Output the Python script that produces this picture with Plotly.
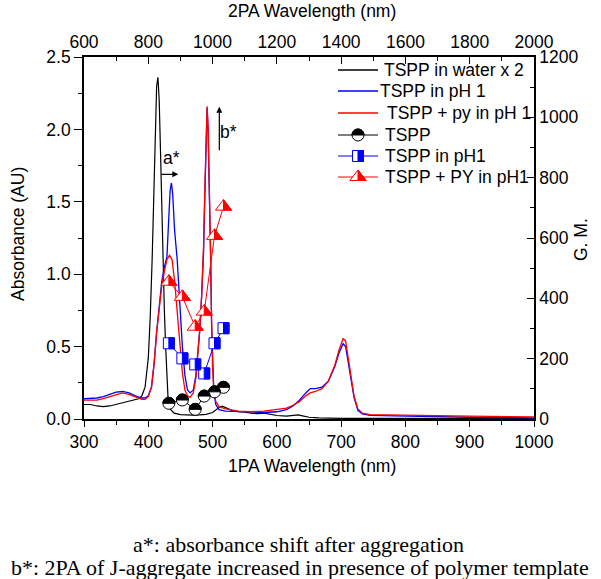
import plotly.graph_objects as go

# ---------------- data ----------------
# 1PA absorbance spectra (wavelength nm, absorbance AU)
wl_water = [300,310,320,330,340,350,360,370,380,385,390,395,400,403,406,409,411,413,415,417,
            419,421,423,425,427,429,431,434,440,450,460,470,480,490,500,505,510,515,520,530,
            540,550,560,570,580,590,600,615,625,633,640,650,665,680,700,750,800,900,1000]
abs_water = [0.10,0.10,0.09,0.085,0.09,0.10,0.11,0.12,0.13,0.14,0.16,0.22,0.42,0.7,1.1,1.65,2.05,2.3,2.36,2.2,
             1.85,1.4,1.03,0.75,0.5,0.25,0.12,0.07,0.04,0.03,0.027,0.027,0.028,0.032,0.045,0.06,0.08,0.088,0.08,0.06,
             0.05,0.048,0.04,0.037,0.04,0.03,0.024,0.02,0.022,0.028,0.022,0.012,0.008,0.006,0.005,0.004,0.003,0.002,0.002]

wl_ph1 = [300,310,320,330,340,350,360,370,380,390,395,400,405,409,413,417,421,425,429,432,
          434,436,438,441,445,449,453,457,461,465,470,474,477,480,483,486,488,490,491.5,493,
          495,497,498.5,500,502,505,510,520,540,560,580,600,615,625,635,645,652,660,670,680,
          690,697,703,707,711,715,720,726,733,745,800,900,1000]
abs_ph1 = [0.14,0.14,0.145,0.155,0.17,0.185,0.19,0.18,0.16,0.145,0.145,0.16,0.22,0.38,0.6,0.8,0.95,1.05,1.12,1.4,
           1.58,1.63,1.55,1.3,1.1,0.8,0.5,0.3,0.2,0.18,0.2,0.3,0.45,0.61,0.85,1.15,1.55,2.0,2.15,2.0,
           1.6,1.1,0.65,0.35,0.18,0.1,0.065,0.055,0.05,0.045,0.045,0.05,0.065,0.09,0.13,0.18,0.21,0.21,0.22,0.26,
           0.36,0.46,0.52,0.5,0.4,0.28,0.15,0.06,0.035,0.025,0.02,0.012,0.008]

wl_py = [300,310,320,330,340,350,360,370,380,390,395,400,405,409,413,417,421,425,429,433,
         437,441,445,449,453,457,461,465,470,474,477,480,483,486,488,490,491.5,493,495,497,
         498.5,500,502,505,510,520,540,560,580,600,615,625,635,645,652,660,670,680,690,697,
         703,707,711,715,720,726,733,745,800,900,1000]
abs_py = [0.13,0.13,0.13,0.14,0.155,0.17,0.18,0.17,0.15,0.135,0.135,0.155,0.22,0.38,0.6,0.78,0.92,1.02,1.1,1.13,
          1.1,0.95,0.72,0.5,0.32,0.2,0.16,0.15,0.18,0.28,0.43,0.61,0.85,1.2,1.6,2.05,2.16,2.02,1.65,1.15,
          0.66,0.35,0.2,0.12,0.085,0.07,0.055,0.05,0.055,0.065,0.075,0.095,0.12,0.16,0.18,0.19,0.21,0.26,0.37,0.48,
          0.555,0.54,0.42,0.29,0.16,0.07,0.04,0.03,0.025,0.02,0.015]

# 2PA cross sections (2PA wavelength nm, G.M.)
wl_2pa = [864, 906, 946, 974, 1006, 1034]
gm_tspp = [52, 63, 32, 76, 90, 105]
gm_ph1 = [251, 201, 181, 151, 251, 301]
gm_py = [455, 405, 306, 356, 607, 704]

names = ["TSPP in water x 2", "TSPP in pH 1", "TSPP + py in pH 1",
         "TSPP", "TSPP in pH1", "TSPP + PY in pH1"]

BLUE = "#0000ff"
RED = "#ff0000"
FONT = "Liberation Sans, Arial, sans-serif"

# ---------------- figure ----------------
fig = go.Figure()
fig.add_trace(go.Scatter(x=wl_water, y=abs_water, mode="lines", name=names[0],
                         line=dict(color="black", width=1.2)))
fig.add_trace(go.Scatter(x=wl_ph1, y=abs_ph1, mode="lines", name=names[1],
                         line=dict(color=BLUE, width=1.3)))
fig.add_trace(go.Scatter(x=wl_py, y=abs_py, mode="lines", name=names[2],
                         line=dict(color=RED, width=1.3)))

CIRC, SQ, TRI = 12, 11, 14
fig.add_trace(go.Scatter(x=wl_2pa, y=gm_tspp, xaxis="x2", yaxis="y2", mode="lines+markers",
                         name=names[3], line=dict(color="black", width=1),
                         marker=dict(symbol="circle", size=CIRC, color="white",
                                     line=dict(color="black", width=1))))
fig.add_trace(go.Scatter(x=wl_2pa, y=gm_ph1, xaxis="x2", yaxis="y2", mode="lines+markers",
                         name=names[4], line=dict(color=BLUE, width=1),
                         marker=dict(symbol="square", size=SQ, color="white",
                                     line=dict(color=BLUE, width=1))))
fig.add_trace(go.Scatter(x=wl_2pa, y=gm_py, xaxis="x2", yaxis="y2", mode="lines+markers",
                         name=names[5], line=dict(color=RED, width=1),
                         marker=dict(symbol="triangle-up", size=TRI, color="white",
                                     line=dict(color=RED, width=1))))


def half_circle(r):
    k = 0.5523 * r
    return f"M {-r},0 C {-r},{k} {-k},{r} 0,{r} C {k},{r} {r},{k} {r},0 Z"


def half_square(r):
    return f"M 0,{-r} L {r},{-r} L {r},{r} L 0,{r} Z"


def full_tri(r):
    rt = r * 2 / 3 ** 0.5
    return f"M {-rt},{-r/2} L {rt},{-r/2} L 0,{r} Z"


def half_tri(r):
    rt = r * 2 / 3 ** 0.5
    return f"M 0,{r} L {rt},{-r/2} L 0,{-r/2} Z"


shapes = []


def pix_shape(path, xa, ya, xref, yref, fill, lc=None, lw=0):
    return dict(type="path", path=path, xref=xref, yref=yref, xsizemode="pixel",
                ysizemode="pixel", xanchor=xa, yanchor=ya, fillcolor=fill,
                line=dict(color=lc if lc else fill, width=lw), layer="above")


# half fills on the 2PA markers
for x, y in zip(wl_2pa, gm_tspp):
    shapes.append(pix_shape(half_circle(CIRC / 2), x, y, "x2", "y2", "black", "black", 1))
for x, y in zip(wl_2pa, gm_ph1):
    shapes.append(pix_shape(half_square(SQ / 2), x, y, "x2", "y2", BLUE, BLUE, 1))
for x, y in zip(wl_2pa, gm_py):
    shapes.append(pix_shape(half_tri(TRI / 2), x, y, "x2", "y2", RED, RED, 1))

# ---------------- manual legend ----------------
L, B, W, H = 84, 419, 450, 362


def px(xp):
    return (xp - L) / W


def py(yp):
    return (B - yp) / H


def txt(text, x, y, size=17.5, xanchor="center", family=FONT, **kw):
    d = dict(text=text, xref="paper", yref="paper", x=px(x), y=py(y), xanchor=xanchor,
             yanchor="middle", showarrow=False, font=dict(family=family, size=size, color="black"))
    d.update(kw)
    return d


rows_y = [70, 91, 113, 135, 156, 177]
text_x = [382, 378, 385, 383, 383, 383]
colors = ["black", BLUE, RED, "black", BLUE, RED]
annotations = []
for i, (yy, tx, c) in enumerate(zip(rows_y, text_x, colors)):
    shapes.append(dict(type="line", xref="paper", yref="paper", x0=px(338), x1=px(378),
                       y0=py(yy), y1=py(yy), line=dict(color=c, width=1.3 if i < 3 else 1),
                       layer="above"))
    annotations.append(txt(names[i], tx, yy, xanchor="left"))
# legend symbols
mx = px(358)
r = CIRC / 2
shapes.append(dict(type="circle", xref="paper", yref="paper", xsizemode="pixel", ysizemode="pixel",
                   xanchor=mx, yanchor=py(rows_y[3]), x0=-r, x1=r, y0=-r, y1=r,
                   fillcolor="white", line=dict(color="black", width=1), layer="above"))
shapes.append(pix_shape(half_circle(r), mx, py(rows_y[3]), "paper", "paper", "black", "black", 1))
r = SQ / 2
shapes.append(dict(type="rect", xref="paper", yref="paper", xsizemode="pixel", ysizemode="pixel",
                   xanchor=mx, yanchor=py(rows_y[4]), x0=-r, x1=r, y0=-r, y1=r,
                   fillcolor="white", line=dict(color=BLUE, width=1), layer="above"))
shapes.append(pix_shape(half_square(r), mx, py(rows_y[4]), "paper", "paper", BLUE, BLUE, 1))
r = TRI / 2
shapes.append(pix_shape(full_tri(r), mx, py(rows_y[5]), "paper", "paper", "white", RED, 1))
shapes.append(pix_shape(half_tri(r), mx, py(rows_y[5]), "paper", "paper", RED, RED, 1))

# ---------------- arrows & labels ----------------
SERIF = "Liberation Serif, Times New Roman, serif"
annotations += [
    dict(x=446.7, y=1.69, ax=418.2, ay=1.69, xref="x", yref="y", axref="x", ayref="y",
         text="", showarrow=True, arrowhead=2, arrowsize=1, arrowwidth=1.2, arrowcolor="black"),
    dict(x=436.4, y=1.80, xref="x", yref="y", text="a*", showarrow=False,
         xanchor="center", yanchor="middle",
         font=dict(family=FONT, size=17.5, color="black")),
    dict(x=510.5, y=2.157, ax=510.5, ay=1.846, xref="x", yref="y", axref="x", ayref="y",
         text="", showarrow=True, arrowhead=2, arrowsize=1, arrowwidth=1.2, arrowcolor="black"),
    dict(x=524.5, y=1.98, xref="x", yref="y", text="b*", showarrow=False,
         xanchor="center", yanchor="middle",
         font=dict(family=FONT, size=17.5, color="black")),
    # axis titles
    txt("Absorbance (AU)", 18, 234, textangle=-90),
    txt("G. M.", 581, 240, textangle=-90),
    txt("1PA Wavelength (nm)", 312, 466),
    txt("2PA Wavelength (nm)", 312, 11),
    # caption
    txt("a*: absorbance shift after aggregation", 298, 544, size=22, family=SERIF),
    txt("b*: 2PA of J-aggregate increased in presence of polymer template", 300, 567,
        size=22, family=SERIF),
]

tickfont = dict(family=FONT, size=17.5, color="black")
axis_common = dict(showline=True, linecolor="black", linewidth=1.6, showgrid=False,
                   zeroline=False, tickcolor="black", tickwidth=1.2, tickfont=tickfont)

fig.update_layout(
    width=601, height=579,
    margin=dict(l=L, r=601 - L - W, t=B - H, b=579 - B, pad=0),
    paper_bgcolor="white", plot_bgcolor="white",
    showlegend=False,
    xaxis=dict(range=[300, 1000], dtick=100, tick0=300, ticks="outside", ticklen=6,
               minor=dict(dtick=50, ticks="outside", ticklen=4, tickcolor="black", tickwidth=1),
               **axis_common),
    yaxis=dict(range=[0, 2.5], dtick=0.5, tick0=0, tickformat=".1f", ticks="outside", ticklen=8,
               minor=dict(dtick=0.25, ticks="outside", ticklen=4, tickcolor="black", tickwidth=1),
               **axis_common),
    xaxis2=dict(range=[600, 2000], dtick=200, tick0=600, overlaying="x", side="top", anchor="y2",
                ticks="inside", ticklen=7,
                minor=dict(dtick=100, ticks="inside", ticklen=4, tickcolor="black", tickwidth=1),
                **axis_common),
    yaxis2=dict(range=[0, 1200], dtick=200, tick0=0, overlaying="y", side="right", anchor="x2",
                ticks="inside", ticklen=7,
                minor=dict(dtick=100, ticks="inside", ticklen=4, tickcolor="black", tickwidth=1),
                **axis_common),
    shapes=shapes,
    annotations=annotations,
)

fig.write_html("out.html", config={"displayModeBar": False},
               post_script="document.body.style.margin='0px';")
